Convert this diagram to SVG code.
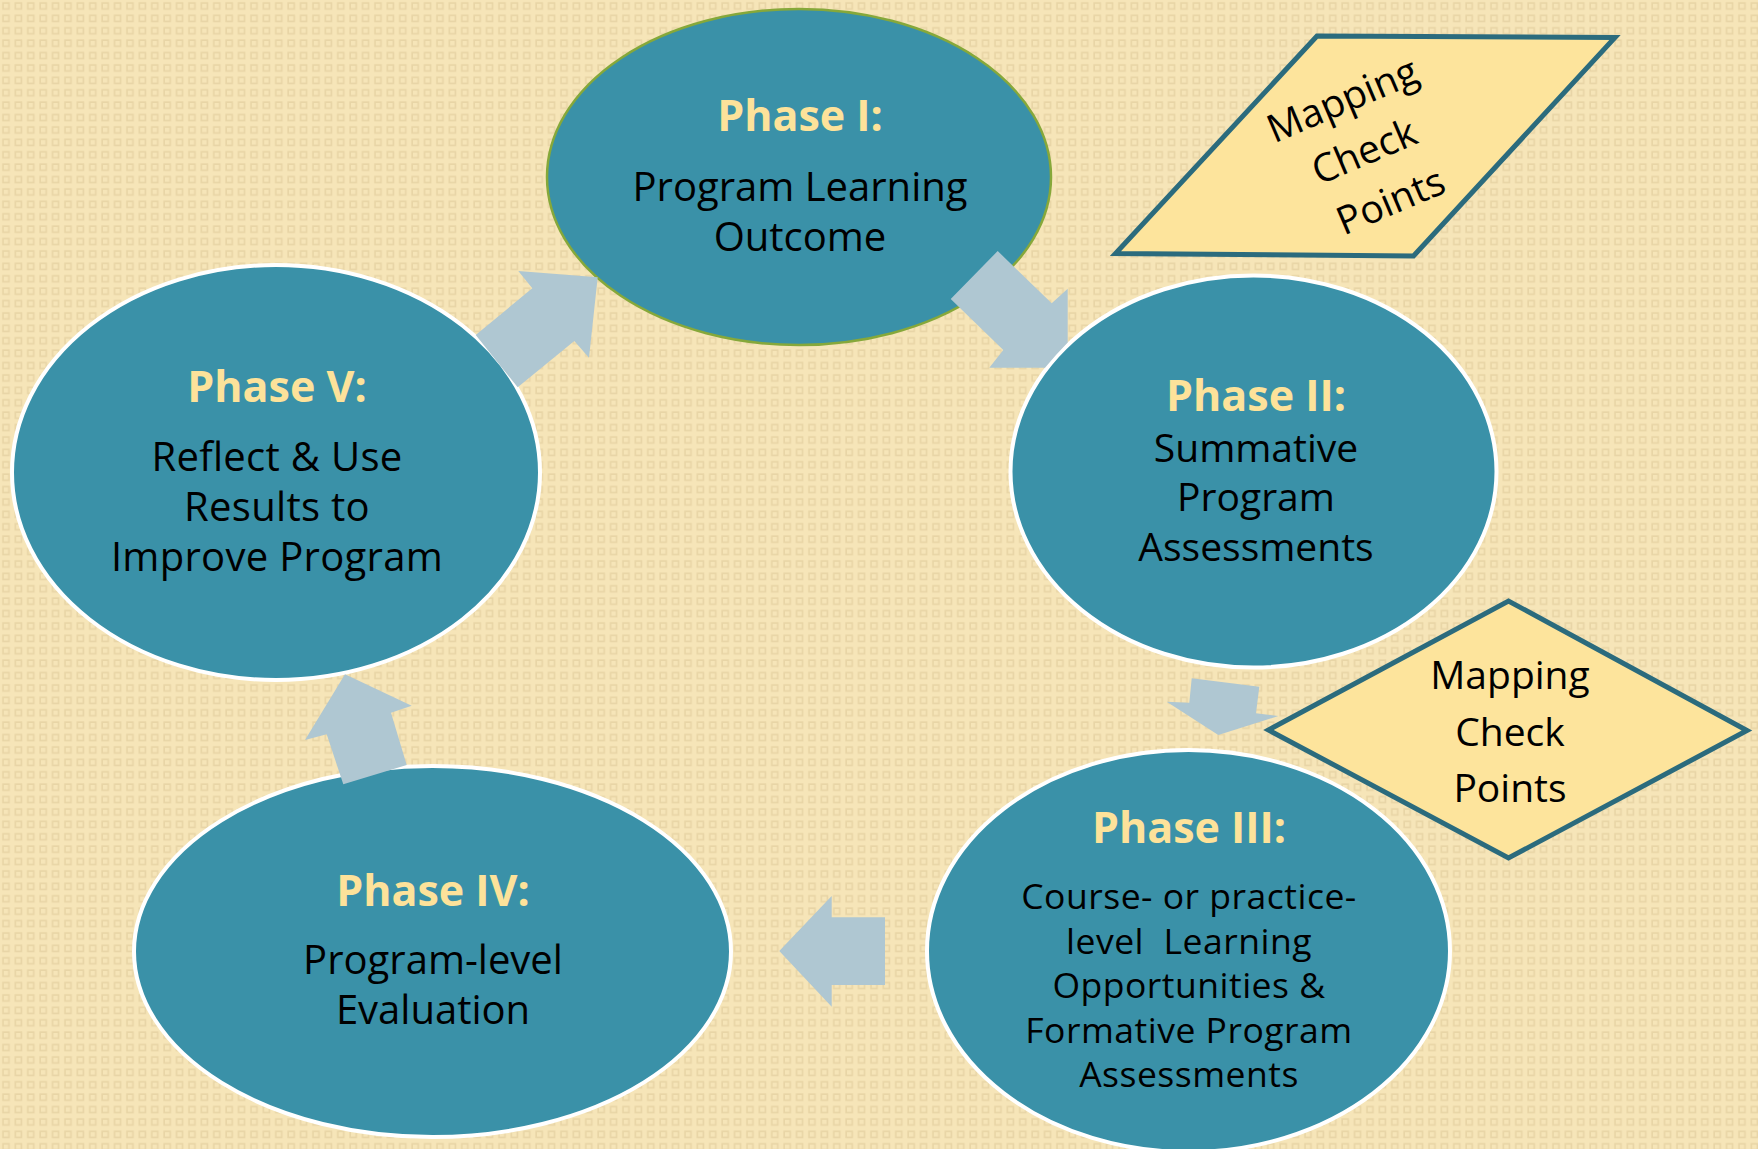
<svg xmlns="http://www.w3.org/2000/svg" width="1758" height="1149" viewBox="0 0 1758 1149">
  <defs>
    <pattern id="bg" width="12.4" height="12.4" patternUnits="userSpaceOnUse">
      <rect width="12.4" height="12.4" fill="#f6e5b8"/>
      <rect x="3" y="3" width="6" height="6" fill="none" stroke="#e8d5a6" stroke-width="1.6"/>
    </pattern>
    <style>
      .phase ellipse { fill: #3a91a8; stroke: #ffffff; stroke-width: 4; }
      #phase1 ellipse { stroke: #86a83a; stroke-width: 2.5; }
      .title { font-family: "Open Sans", "Liberation Sans", sans-serif; font-weight: 700; font-size: 43px; fill: #fde29a; text-anchor: middle; }
      .body { font-family: "Open Sans", "Liberation Sans", sans-serif; font-size: 40px; fill: #000000; text-anchor: middle; }
      .small { font-size: 35.5px; letter-spacing: 0.5px; }
      .check { fill: #fde49c; stroke: #2b6b7d; stroke-width: 5; stroke-linejoin: miter; }
      .arrow { fill: #afc7d2; stroke: none; }
    </style>
  </defs>

  <rect width="1758" height="1149" fill="url(#bg)"/>

  <g id="phase1" class="phase">
    <ellipse cx="799" cy="177" rx="252" ry="168"/>
    <text class="title" x="800" y="131">Phase I:</text>
    <text class="body" x="800" y="201">Program Learning</text>
    <text class="body" x="800" y="251">Outcome</text>
  </g>

  <g id="phase2" class="phase">
    <ellipse cx="1253.5" cy="471.5" rx="243" ry="196"/>
    <text class="title" x="1256" y="411">Phase II:</text>
    <text class="body" x="1256" y="462" style="font-size:39px">Summative</text>
    <text class="body" x="1256" y="511" style="font-size:39px">Program</text>
    <text class="body" x="1256" y="561" style="font-size:39px">Assessments</text>
  </g>

  <g id="phase3" class="phase">
    <ellipse cx="1188.5" cy="951" rx="261.5" ry="201"/>
    <text class="title" x="1189" y="843">Phase III:</text>
    <text class="body small" x="1189" y="909">Course- or practice-</text>
    <text class="body small" x="1189" y="953.5" xml:space="preserve">level  Learning</text>
    <text class="body small" x="1189" y="998">Opportunities &amp;</text>
    <text class="body small" x="1189" y="1042.5">Formative Program</text>
    <text class="body small" x="1189" y="1087">Assessments</text>
  </g>

  <g id="phase4" class="phase">
    <ellipse cx="432.5" cy="951.5" rx="298.5" ry="185.5"/>
    <text class="title" x="433" y="906">Phase IV:</text>
    <text class="body" x="433" y="974">Program-level</text>
    <text class="body" x="433" y="1024">Evaluation</text>
  </g>

  <g id="phase5" class="phase">
    <ellipse cx="276" cy="472.5" rx="264" ry="207.5"/>
    <text class="title" x="277" y="402">Phase V:</text>
    <text class="body" x="277" y="471" style="letter-spacing:0.3px">Reflect &amp; Use</text>
    <text class="body" x="277" y="521" style="letter-spacing:0.3px">Results to</text>
    <text class="body" x="277" y="571" style="letter-spacing:0.3px">Improve Program</text>
  </g>

  <g id="checkpoint1">
    <polygon class="check" points="1317,36 1615,37.5 1413.5,256 1115.5,253.5"/>
    <text class="body" style="font-size:39px" transform="translate(1369,150) rotate(-23)">
      <tspan x="0" y="-43">Mapping</tspan>
      <tspan x="0" y="13">Check</tspan>
      <tspan x="0" y="69">Points</tspan>
    </text>
  </g>

  <g id="checkpoint2">
    <polygon class="check" points="1268.5,730 1508.5,601 1747,730.5 1508.5,858"/>
    <text class="body" style="font-size:39px" x="1510" y="689">Mapping</text>
    <text class="body" style="font-size:39px" x="1510" y="746">Check</text>
    <text class="body" style="font-size:39px" x="1510" y="802">Points</text>
  </g>

  <g id="connectors">
    <polygon class="arrow" points="475.7,335 532.3,288.3 518.3,271 597.7,277.3 589,357.7 574.3,341 517.7,387.3"/>
    <polygon class="arrow" points="950.7,299 997.7,251 1051.7,303.3 1067.7,288.7 1067.7,342.5 1056,355 1045,367.7 989.3,367.7 1003.3,350"/>
    <polygon class="arrow" points="1191.7,678.3 1259.3,686.7 1256,713.3 1278.3,716 1218.3,735 1166.7,701.7 1189.3,702.7"/>
    <polygon class="arrow" points="885,917.3 831.7,917.3 831.7,896 779.3,951 831.7,1006.7 831.7,985 885,985"/>
    <polygon class="arrow" points="343.3,784.3 326.7,734.3 305,740 345,674.3 411.7,705.7 391,712.7 406.7,765"/>
  </g>
</svg>
